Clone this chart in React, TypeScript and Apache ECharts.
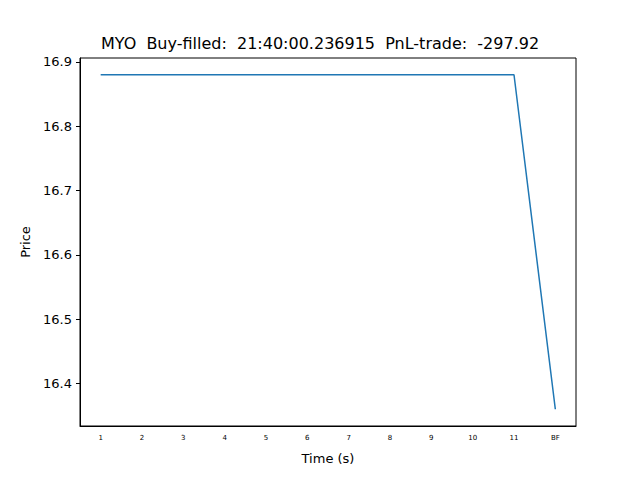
import { useEffect, useRef } from 'react';
import * as echarts from 'echarts';

const categories = ['1', '2', '3', '4', '5', '6', '7', '8', '9', '10', '11', 'BF'];
const prices = [16.88, 16.88, 16.88, 16.88, 16.88, 16.88, 16.88, 16.88, 16.88, 16.88, 16.88, 16.36];
const yTicks = [16.4, 16.5, 16.6, 16.7, 16.8, 16.9];
const title = 'MYO  Buy-filled:  21:40:00.236915  PnL-trade:  -297.92';

const App = () => {
  const chartRef = useRef<HTMLDivElement>(null);

  useEffect(() => {
    if (!chartRef.current) return;
    const chart = echarts.init(chartRef.current, null, { renderer: 'svg' });
    const font = 'DejaVu Sans';
    chart.setOption({
      animation: false,
      title: {
        text: title,
        left: 'center',
        top: 30,
        textStyle: { fontFamily: font, fontSize: 16, fontWeight: 'normal', color: '#000' },
      },
      grid: {
        left: 80, top: 58, width: 496, height: 368,
        show: true, borderColor: '#000', borderWidth: 1, backgroundColor: '#fff',
      },
      xAxis: {
        type: 'category',
        data: categories,
        boundaryGap: true,
        name: 'Time (s)',
        nameLocation: 'middle',
        nameGap: 26,
        nameTextStyle: { fontFamily: font, fontSize: 13, color: '#000' },
        axisLine: { lineStyle: { color: '#000' } },
        axisTick: { alignWithLabel: true, length: 4, lineStyle: { color: '#000' } },
        axisLabel: { fontFamily: font, fontSize: 7, color: '#000', margin: 8, interval: 0 },
        splitLine: { show: false },
      },
      yAxis: {
        type: 'value',
        min: 16.334,
        max: 16.906,
        name: 'Price',
        nameLocation: 'middle',
        nameGap: 47,
        nameTextStyle: { fontFamily: font, fontSize: 13, color: '#000' },
        axisLine: { show: true, lineStyle: { color: '#000' } },
        axisTick: { show: true, length: 4, customValues: yTicks, lineStyle: { color: '#000' } },
        axisLabel: {
          fontFamily: font, fontSize: 13, color: '#000', margin: 8,
          customValues: yTicks,
          formatter: (v: number) => v.toFixed(1),
        },
        splitLine: { show: false },
      },
      series: [{
        type: 'line',
        data: prices,
        symbol: 'none',
        lineStyle: { color: '#1f77b4', width: 1.5 },
      }],
    });
    return () => chart.dispose();
  }, []);

  return <div ref={chartRef} style={{ width: 640, height: 480, margin: -8 }} />;
};

export default App;
